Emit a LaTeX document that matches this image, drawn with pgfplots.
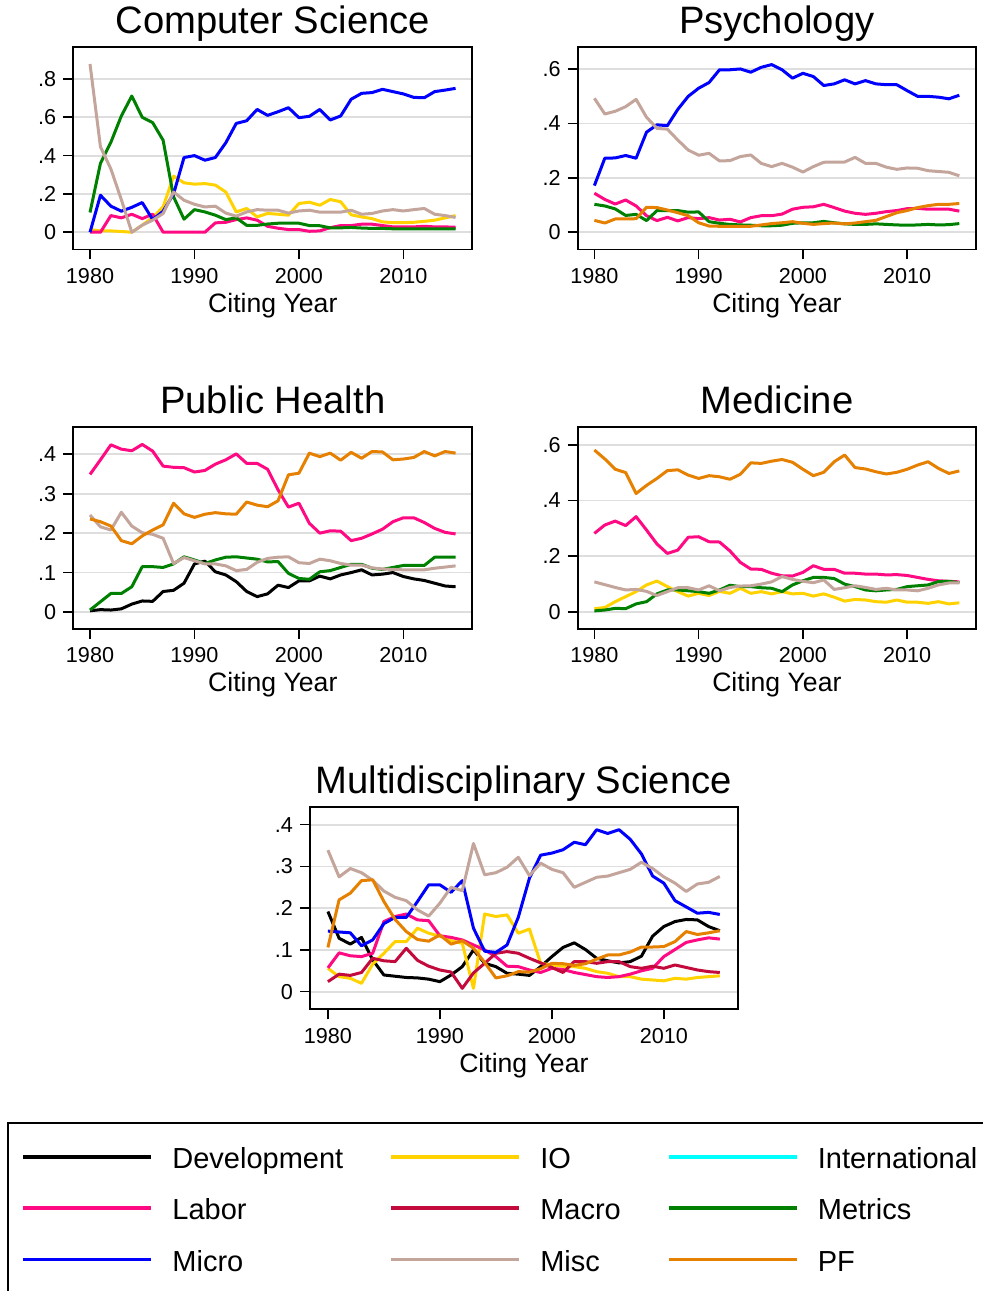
\documentclass[border=0pt]{standalone}
\usepackage{fontspec}
\setmainfont{Liberation Sans}
\usepackage{pgfplots}
\usepackage{pgfplotstable}
\pgfplotsset{compat=1.18}

\definecolor{cDev}{RGB}{0,0,0}
\definecolor{cIO}{RGB}{255,210,0}
\definecolor{cInt}{RGB}{0,255,255}
\definecolor{cLab}{RGB}{255,10,130}
\definecolor{cMac}{RGB}{195,10,60}
\definecolor{cMet}{RGB}{0,128,0}
\definecolor{cMic}{RGB}{0,0,255}
\definecolor{cMis}{RGB}{195,165,155}
\definecolor{cPF}{RGB}{230,128,0}
\definecolor{cGrid}{RGB}{222,222,222}

% shares of citations by field, 1980-2015
\pgfplotstableread{
year IO Lab Met Mic Mis
1980 0.014 0 0.103 0 0.878
1981 0.007 0 0.36 0.193 0.446
1982 0.007 0.087 0.47 0.136 0.33
1983 0.004 0.075 0.607 0.11 0.17
1984 0 0.094 0.711 0.13 0
1985 0.037 0.071 0.6 0.155 0.037
1986 0.077 0.094 0.572 0.066 0.063
1987 0.132 0 0.48 0.11 0.098
1988 0.293 0 0.185 0.2 0.21
1989 0.258 0 0.068 0.39 0.167
1990 0.251 0 0.118 0.4 0.146
1991 0.254 0 0.106 0.376 0.132
1992 0.246 0.049 0.089 0.39 0.136
1993 0.21 0.052 0.066 0.467 0.1
1994 0.106 0.066 0.075 0.568 0.084
1995 0.124 0.075 0.036 0.582 0.106
1996 0.08 0.063 0.036 0.641 0.118
1997 0.098 0.031 0.043 0.61 0.115
1998 0.094 0.021 0.047 0.629 0.115
1999 0.089 0.014 0.047 0.65 0.1
2000 0.15 0.014 0.047 0.598 0.111
2001 0.157 0.005 0.035 0.605 0.115
2002 0.141 0.007 0.034 0.641 0.105
2003 0.171 0.024 0.023 0.586 0.105
2004 0.159 0.035 0.023 0.607 0.105
2005 0.091 0.035 0.025 0.694 0.115
2006 0.08 0.042 0.022 0.725 0.094
2007 0.071 0.042 0.02 0.729 0.098
2008 0.054 0.035 0.02 0.746 0.111
2009 0.05 0.028 0.018 0.734 0.118
2010 0.05 0.028 0.018 0.722 0.111
2011 0.052 0.028 0.018 0.704 0.118
2012 0.057 0.031 0.018 0.702 0.124
2013 0.063 0.028 0.017 0.734 0.094
2014 0.075 0.028 0.017 0.742 0.087
2015 0.087 0.026 0.017 0.751 0.077
}\tCS

\pgfplotstableread{
year Lab Met Mic Mis PF
1980 0.143 0.102 0.171 0.493 0.043
1981 0.12 0.096 0.272 0.435 0.033
1982 0.103 0.085 0.273 0.445 0.048
1983 0.118 0.061 0.282 0.462 0.048
1984 0.096 0.065 0.272 0.489 0.049
1985 0.06 0.042 0.368 0.423 0.091
1986 0.042 0.079 0.395 0.382 0.09
1987 0.054 0.079 0.392 0.379 0.081
1988 0.041 0.079 0.452 0.339 0.071
1989 0.053 0.073 0.5 0.302 0.06
1990 0.049 0.074 0.53 0.283 0.034
1991 0.053 0.038 0.551 0.29 0.022
1992 0.044 0.032 0.598 0.262 0.021
1993 0.047 0.028 0.598 0.263 0.021
1994 0.037 0.026 0.601 0.278 0.021
1995 0.053 0.025 0.589 0.284 0.021
1996 0.06 0.023 0.607 0.253 0.026
1997 0.06 0.023 0.617 0.241 0.031
1998 0.066 0.025 0.598 0.253 0.034
1999 0.084 0.032 0.567 0.239 0.038
2000 0.091 0.034 0.585 0.221 0.032
2001 0.093 0.034 0.573 0.241 0.028
2002 0.102 0.039 0.54 0.257 0.031
2003 0.09 0.034 0.546 0.258 0.033
2004 0.077 0.03 0.561 0.258 0.03
2005 0.069 0.028 0.546 0.275 0.033
2006 0.065 0.028 0.558 0.253 0.038
2007 0.069 0.03 0.546 0.253 0.043
2008 0.075 0.028 0.543 0.239 0.057
2009 0.079 0.026 0.543 0.231 0.071
2010 0.086 0.025 0.521 0.236 0.079
2011 0.087 0.026 0.5 0.235 0.09
2012 0.084 0.028 0.5 0.226 0.097
2013 0.084 0.026 0.497 0.223 0.102
2014 0.084 0.027 0.491 0.22 0.102
2015 0.077 0.031 0.504 0.207 0.105
}\tPsy

\pgfplotstableread{
year Dev Lab Met Mis PF
1980 0.003 0.349 0.005 0.246 0.236
1981 0.006 0.386 0.026 0.216 0.229
1982 0.005 0.424 0.047 0.208 0.218
1983 0.008 0.413 0.047 0.253 0.181
1984 0.02 0.409 0.064 0.218 0.173
1985 0.028 0.425 0.115 0.201 0.193
1986 0.027 0.408 0.115 0.197 0.208
1987 0.052 0.37 0.113 0.187 0.221
1988 0.055 0.367 0.122 0.123 0.276
1989 0.073 0.366 0.14 0.138 0.249
1990 0.122 0.355 0.132 0.13 0.24
1991 0.129 0.359 0.123 0.122 0.248
1992 0.102 0.375 0.132 0.122 0.252
1993 0.094 0.386 0.139 0.117 0.249
1994 0.077 0.401 0.14 0.105 0.248
1995 0.052 0.377 0.137 0.108 0.279
1996 0.039 0.377 0.134 0.126 0.271
1997 0.046 0.362 0.127 0.136 0.267
1998 0.068 0.31 0.128 0.139 0.282
1999 0.062 0.266 0.098 0.14 0.348
2000 0.079 0.276 0.085 0.125 0.352
2001 0.079 0.225 0.083 0.123 0.403
2002 0.091 0.2 0.102 0.134 0.394
2003 0.084 0.206 0.105 0.13 0.403
2004 0.094 0.205 0.113 0.123 0.385
2005 0.1 0.181 0.121 0.119 0.405
2006 0.107 0.187 0.121 0.119 0.39
2007 0.094 0.198 0.111 0.112 0.407
2008 0.096 0.21 0.108 0.109 0.406
2009 0.1 0.229 0.113 0.108 0.386
2010 0.09 0.239 0.118 0.107 0.388
2011 0.084 0.239 0.118 0.107 0.392
2012 0.08 0.227 0.118 0.107 0.407
2013 0.073 0.212 0.139 0.111 0.396
2014 0.066 0.202 0.139 0.114 0.407
2015 0.064 0.198 0.139 0.117 0.403
}\tPH

\pgfplotstableread{
year IO Lab Met Mis PF
1980 0.012 0.282 0.004 0.108 0.581
1981 0.016 0.312 0.007 0.098 0.549
1982 0.037 0.326 0.013 0.088 0.512
1983 0.055 0.31 0.012 0.079 0.5
1984 0.073 0.342 0.029 0.081 0.425
1985 0.097 0.294 0.037 0.074 0.454
1986 0.111 0.244 0.065 0.059 0.479
1987 0.091 0.21 0.079 0.073 0.507
1988 0.073 0.222 0.079 0.087 0.51
1989 0.057 0.268 0.076 0.087 0.491
1990 0.067 0.27 0.073 0.079 0.479
1991 0.059 0.252 0.067 0.094 0.489
1992 0.074 0.251 0.079 0.076 0.485
1993 0.067 0.219 0.096 0.088 0.476
1994 0.085 0.178 0.091 0.093 0.494
1995 0.067 0.154 0.091 0.094 0.535
1996 0.073 0.153 0.087 0.1 0.533
1997 0.065 0.139 0.085 0.108 0.541
1998 0.073 0.13 0.073 0.127 0.547
1999 0.065 0.129 0.097 0.117 0.537
2000 0.067 0.142 0.112 0.11 0.512
2001 0.057 0.166 0.124 0.105 0.489
2002 0.065 0.153 0.124 0.115 0.501
2003 0.053 0.153 0.12 0.081 0.539
2004 0.039 0.139 0.1 0.087 0.563
2005 0.045 0.139 0.091 0.094 0.518
2006 0.043 0.136 0.079 0.088 0.513
2007 0.037 0.136 0.076 0.081 0.503
2008 0.035 0.133 0.079 0.085 0.495
2009 0.043 0.134 0.081 0.079 0.501
2010 0.035 0.131 0.091 0.079 0.512
2011 0.035 0.124 0.094 0.076 0.527
2012 0.031 0.117 0.097 0.085 0.539
2013 0.037 0.112 0.109 0.097 0.515
2014 0.029 0.11 0.11 0.104 0.497
2015 0.033 0.108 0.105 0.105 0.506
}\tMed

\pgfplotstableread{
year Dev IO Lab Mac Mic Mis PF
1980 0.192 0.056 0.057 0.024 0.145 0.339 0.106
1981 0.128 0.036 0.093 0.042 0.143 0.275 0.22
1982 0.114 0.032 0.086 0.039 0.141 0.295 0.236
1983 0.13 0.02 0.084 0.046 0.11 0.285 0.266
1984 0.076 0.066 0.092 0.08 0.124 0.267 0.268
1985 0.04 0.092 0.168 0.074 0.163 0.241 0.216
1986 0.037 0.12 0.18 0.072 0.178 0.226 0.173
1987 0.034 0.12 0.186 0.104 0.178 0.218 0.144
1988 0.033 0.152 0.172 0.075 0.216 0.196 0.125
1989 0.03 0.14 0.17 0.061 0.256 0.181 0.121
1990 0.024 0.133 0.134 0.052 0.256 0.212 0.136
1991 0.04 0.122 0.13 0.047 0.238 0.25 0.114
1992 0.06 0.116 0.124 0.008 0.266 0.242 0.122
1993 0.1 0.008 0.112 0.045 0.152 0.355 0.104
1994 0.068 0.186 0.1 0.068 0.097 0.28 0.07
1995 0.06 0.18 0.084 0.092 0.094 0.285 0.033
1996 0.044 0.184 0.061 0.096 0.112 0.298 0.038
1997 0.042 0.14 0.06 0.092 0.178 0.322 0.048
1998 0.039 0.15 0.052 0.08 0.272 0.278 0.047
1999 0.06 0.068 0.046 0.069 0.327 0.308 0.055
2000 0.084 0.064 0.056 0.058 0.332 0.293 0.068
2001 0.106 0.061 0.053 0.046 0.34 0.285 0.067
2002 0.117 0.06 0.046 0.072 0.358 0.25 0.063
2003 0.101 0.056 0.041 0.072 0.352 0.262 0.067
2004 0.08 0.048 0.036 0.068 0.388 0.274 0.078
2005 0.074 0.044 0.034 0.072 0.379 0.277 0.088
2006 0.069 0.036 0.036 0.072 0.388 0.285 0.088
2007 0.072 0.036 0.042 0.06 0.365 0.293 0.095
2008 0.085 0.03 0.05 0.056 0.33 0.31 0.107
2009 0.133 0.028 0.056 0.061 0.277 0.295 0.107
2010 0.156 0.026 0.084 0.056 0.26 0.275 0.108
2011 0.168 0.032 0.101 0.064 0.218 0.26 0.12
2012 0.173 0.03 0.118 0.058 0.203 0.24 0.144
2013 0.172 0.034 0.124 0.052 0.188 0.258 0.137
2014 0.156 0.036 0.129 0.048 0.19 0.262 0.141
2015 0.146 0.038 0.126 0.046 0.185 0.276 0.146
}\tMulti

\pgfplotsset{
  every axis title shift=0pt,
  panel/.style={
    scale only axis, anchor=south west,
    xmin=1978.4, xmax=2016.6,
    xtick={1980,1990,2000,2010},
    xticklabels={1980,1990,2000,2010},
    xtick pos=bottom, ytick pos=left,
    tick align=outside, major tick length=5pt,
    tick style={black, line width=0.8pt},
    axis line style={line width=0.9pt},
    ymajorgrids, grid style={cGrid, line width=0.9pt},
    ticklabel style={font=\fontsize{10.8}{13}\selectfont},
    xticklabel style={yshift=-0.8pt},
    xlabel={Citing Year},
    xlabel style={font=\fontsize{13.3}{16}\selectfont, inner sep=0pt,
      at={(axis description cs:0.5,0)}, anchor=base, yshift=-31.5pt},
    title style={font=\fontsize{19.1}{23}\selectfont, inner sep=0pt,
      at={(axis description cs:0.5,1)}, anchor=base, yshift=6.75pt},
    every axis plot/.append style={line width=1.5pt, line join=round},
  },
}

\begin{document}
\begin{tikzpicture}
\useasboundingbox (0,0) rectangle (491pt,645.5pt);

\begin{axis}[panel, at={(36.65pt,520.75pt)}, width=199.5pt, height=101.25pt,
  title={Computer Science}, ymin=-0.09, ymax=0.967,
  ytick={0,0.2,0.4,0.6,0.8}, yticklabels={0,.2,.4,.6,.8}]
  \addplot[cIO] table[x=year,y=IO] {\tCS};
  \addplot[cLab] table[x=year,y=Lab] {\tCS};
  \addplot[cMet] table[x=year,y=Met] {\tCS};
  \addplot[cMic] table[x=year,y=Mic] {\tCS};
  \addplot[cMis] table[x=year,y=Mis] {\tCS};
\end{axis}

\begin{axis}[panel, at={(288.85pt,520.75pt)}, width=199.15pt, height=101.25pt,
  title={Psychology}, ymin=-0.0645, ymax=0.682,
  ytick={0,0.2,0.4,0.6}, yticklabels={0,.2,.4,.6}]
  \addplot[cLab] table[x=year,y=Lab] {\tPsy};
  \addplot[cMet] table[x=year,y=Met] {\tPsy};
  \addplot[cMic] table[x=year,y=Mic] {\tPsy};
  \addplot[cMis] table[x=year,y=Mis] {\tPsy};
  \addplot[cPF] table[x=year,y=PF] {\tPsy};
\end{axis}

\begin{axis}[panel, at={(36.65pt,331pt)}, width=199.5pt, height=101.15pt,
  title={Public Health}, ymin=-0.0431, ymax=0.47,
  ytick={0,0.1,0.2,0.3,0.4}, yticklabels={0,.1,.2,.3,.4}]
  \addplot[cDev] table[x=year,y=Dev] {\tPH};
  \addplot[cLab] table[x=year,y=Lab] {\tPH};
  \addplot[cMet] table[x=year,y=Met] {\tPH};
  \addplot[cMis] table[x=year,y=Mis] {\tPH};
  \addplot[cPF] table[x=year,y=PF] {\tPH};
\end{axis}

\begin{axis}[panel, at={(288.85pt,331pt)}, width=199.15pt, height=100.85pt,
  title={Medicine}, ymin=-0.061, ymax=0.6625,
  ytick={0,0.2,0.4,0.6}, yticklabels={0,.2,.4,.6}]
  \addplot[cIO] table[x=year,y=IO] {\tMed};
  \addplot[cLab] table[x=year,y=Lab] {\tMed};
  \addplot[cMet] table[x=year,y=Met] {\tMed};
  \addplot[cMis] table[x=year,y=Mis] {\tMed};
  \addplot[cPF] table[x=year,y=PF] {\tMed};
\end{axis}

\begin{axis}[panel, at={(155pt,140.85pt)}, width=213.85pt, height=101pt,
  title={Multidisciplinary Science}, ymin=-0.0422, ymax=0.4417,
  ytick={0,0.1,0.2,0.3,0.4}, yticklabels={0,.1,.2,.3,.4}]
  \addplot[cDev] table[x=year,y=Dev] {\tMulti};
  \addplot[cIO] table[x=year,y=IO] {\tMulti};
  \addplot[cLab] table[x=year,y=Lab] {\tMulti};
  \addplot[cMac] table[x=year,y=Mac] {\tMulti};
  \addplot[cMic] table[x=year,y=Mic] {\tMulti};
  \addplot[cMis] table[x=year,y=Mis] {\tMulti};
  \addplot[cPF] table[x=year,y=PF] {\tMulti};
\end{axis}

% legend panel
\draw[line width=1pt] (495pt,84pt) -- (3.75pt,84pt) -- (3.75pt,-3pt);
\begin{axis}[hide axis, scale only axis, anchor=south west, at={(0pt,0pt)},
  width=491pt, height=645.5pt, xmin=0, xmax=1, ymin=0, ymax=1,
  legend columns=3, legend cell align=left,
  legend image code/.code={\draw[#1] (0pt,0pt) -- (64pt,0pt);},
  legend style={at={(0.0214,0.1154)}, anchor=north west, draw=none, fill=none,
    inner sep=0pt, row sep=11.3pt, font=\fontsize{14.5}{17}\selectfont,
    nodes={inner sep=0pt, text height=13pt, text depth=1.4pt},
    /tikz/every odd column/.append style={column sep=9.7pt},
    /tikz/every even column/.append style={column sep=23pt}}]
  \addlegendimage{cDev, line width=1.8pt}\addlegendentry{Development}
  \addlegendimage{cIO, line width=1.8pt}\addlegendentry{IO}
  \addlegendimage{cInt, line width=1.8pt}\addlegendentry{International}
  \addlegendimage{cLab, line width=1.8pt}\addlegendentry{Labor}
  \addlegendimage{cMac, line width=1.8pt}\addlegendentry{Macro}
  \addlegendimage{cMet, line width=1.8pt}\addlegendentry{Metrics}
  \addlegendimage{cMic, line width=1.8pt}\addlegendentry{Micro}
  \addlegendimage{cMis, line width=1.8pt}\addlegendentry{Misc}
  \addlegendimage{cPF, line width=1.8pt}\addlegendentry{PF}
\end{axis}
\end{tikzpicture}
\end{document}
